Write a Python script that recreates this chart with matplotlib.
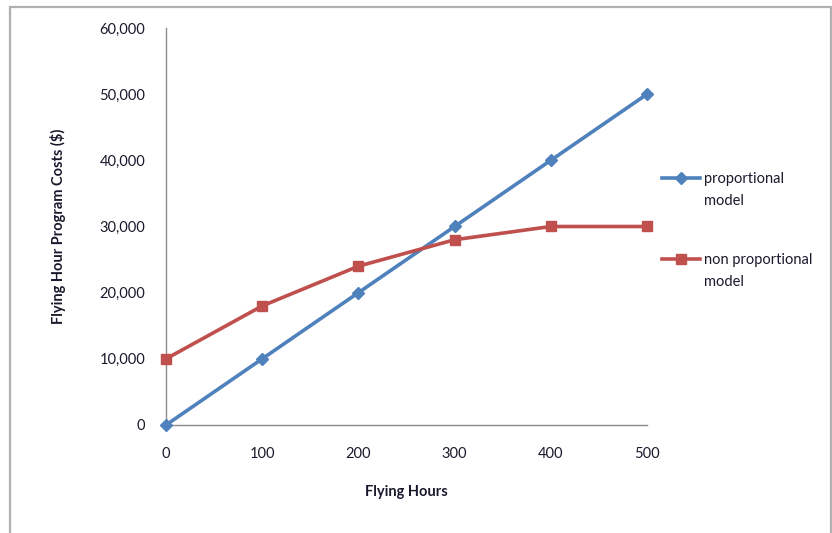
import matplotlib
matplotlib.use("Agg")
import matplotlib.pyplot as plt
from matplotlib.patches import Rectangle

plt.rcParams['font.family'] = ['Lato', 'DejaVu Sans']

hours = [0, 100, 200, 300, 400, 500]
proportional = [0, 10000, 20000, 30000, 40000, 50000]
non_proportional = [10000, 18000, 24000, 28000, 30000, 30000]
y_ticks = [0, 10000, 20000, 30000, 40000, 50000, 60000]
series_names = ['proportional', 'non proportional']

blue = '#4F81BD'
red = '#C0504D'
text_color = '#1a1a2e'

fig = plt.figure(figsize=(8.32, 5.33), dpi=100)
ax = fig.add_axes([166 / 832, 1 - 425 / 533, (647 - 166) / 832, (425 - 28) / 533])

ax.plot(hours, proportional, color=blue, lw=2.6, marker='D', markersize=6.5,
        label=series_names[0], zorder=3, clip_on=False)
ax.plot(hours, non_proportional, color=red, lw=2.6, marker='s', markersize=7.5,
        label=series_names[1], zorder=3, clip_on=False)

ax.set_xlim(0, 500)
ax.set_ylim(0, 60000)
ax.set_xticks(hours)
ax.set_xticklabels([str(h) for h in hours])
ax.set_yticks(y_ticks)
ax.set_yticklabels([f'{v:,}' for v in y_ticks])
ax.tick_params(axis='both', length=0, labelsize=10.5, colors=text_color)
ax.tick_params(axis='x', pad=16)
ax.tick_params(axis='y', pad=15)

for side in ('top', 'right'):
    ax.spines[side].set_visible(False)
for side in ('left', 'bottom'):
    ax.spines[side].set_color('#8c8c8c')
    ax.spines[side].set_linewidth(1.0)

ax.set_xlabel('Flying Hours', fontsize=10.5, fontweight='bold', color=text_color, labelpad=17)
ax.set_ylabel('Flying Hour Program Costs ($)', fontsize=10.5, fontweight='bold',
              color=text_color, labelpad=24)

# Legend: series name on the marker line, "model" wrapped onto a second line
leg = ax.legend(loc='upper left', bbox_to_anchor=(662 / 832, 1 - 172 / 533),
                bbox_transform=fig.transFigure, frameon=False, fontsize=10.5,
                handlelength=2.6, handletextpad=0.3, labelspacing=4.6,
                borderpad=0, borderaxespad=0, labelcolor=text_color)
fig.canvas.draw()
renderer = fig.canvas.get_renderer()
inv = fig.transFigure.inverted()
for t in leg.get_texts():
    bb = t.get_window_extent(renderer)
    x0, y0 = inv.transform((bb.x0, bb.y0))
    fig.text(x0, y0 - 8 / 533, 'model', fontsize=10.5, color=text_color,
             ha='left', va='top')

fig.patches.append(Rectangle((10 / 832, -0.05), (831 - 10) / 832, 1.05 - 7 / 533,
                             transform=fig.transFigure, fill=False,
                             edgecolor='#b0b0b0', linewidth=1.6))

fig.savefig('out.png', dpi=100)
